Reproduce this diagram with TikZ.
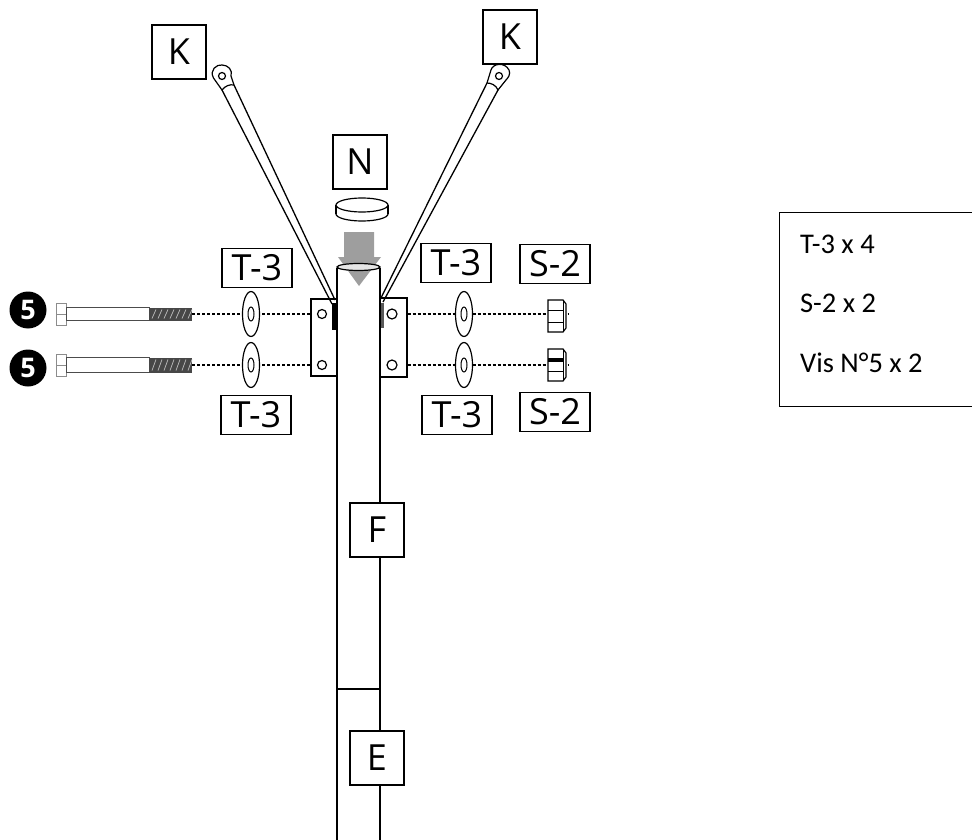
\documentclass[tikz,border=0pt]{standalone}
\usepackage{fontspec}
\setmainfont{Open Sans}
\newfontfamily\notefont{Carlito}
\usetikzlibrary{shapes.geometric}
\tikzstyle{tag}=[draw, line width=1.1, fill=white, inner sep=0, font=\fontsize{36}{36}\selectfont]
\tikzstyle{square tag}=[tag, minimum size=54]
\tikzstyle{wide tag}=[tag, minimum width=70, minimum height=39]
\tikzstyle{part}=[draw, line width=1.2, fill=white]
\tikzstyle{tube}=[line width=1.7]
\tikzstyle{rod}=[line width=1.3]
\tikzstyle{axis}=[dash pattern=on 3 off 2, line width=1.5]
\tikzstyle{washer}=[part, ellipse, inner sep=0, minimum width=17, minimum height=45]
\tikzstyle{bore}=[draw, line width=1, ellipse, inner sep=0, minimum width=6, minimum height=14]
\tikzstyle{hole}=[part, circle, inner sep=0, minimum size=9]
\tikzstyle{badge}=[fill=black, text=white, circle, inner sep=0, minimum size=37, font=\fontsize{27}{27}\bfseries\selectfont]
\tikzstyle{note}=[font=\notefont\fontsize{28.5}{28.5}\selectfont, anchor=west]
\pgfdeclarelayer{back}
\pgfsetlayers{back,main}

\begin{document}
\begin{tikzpicture}[x=1pt, y=-1pt]
    \useasboundingbox (0, 0) rectangle (972, 840);

    \node[badge] (five_upper) at (28, 310) {5};
    \node[badge] (five_lower) at (28, 368) {5};

    % cap and arrow
    \draw[part] (362, 214) ellipse[x radius=26, y radius=7];
    \fill[white] (336, 205) rectangle (388, 214);
    \draw[line width=1.2] (336, 205) -- (336, 214) (388, 205) -- (388, 214);
    \draw[part] (362, 205) ellipse[x radius=26, y radius=7];
    \fill[black!38] (344, 232) -- (374, 232) -- (374, 257) -- (381, 257) -- (359, 286) -- (338, 257) -- (344, 257) -- cycle;

    % brackets
    \draw[part] (311, 299) rectangle (337, 376);
    \draw[part] (380, 298) rectangle (407, 377);
    \fill (332, 303) rectangle (337, 330);
    \fill[black!65] (380, 303) rectangle (384, 328);

    % rods
    \coordinate (rod_left_a) at (222, 90);
    \coordinate (rod_left_b) at (234, 85);
    \coordinate (foot_left_a) at (332, 304);
    \coordinate (foot_left_b) at (335, 300);
    \coordinate (rod_right_a) at (487, 83);
    \coordinate (rod_right_b) at (498, 90);
    \coordinate (foot_right_a) at (380, 300);
    \coordinate (foot_right_b) at (383, 302);
    \draw[rod] (rod_left_a) to (foot_left_a);
    \draw[rod] (rod_left_b) to (foot_left_b);
    \draw[rod] (rod_right_a) to (foot_right_a);
    \draw[rod] (rod_right_b) to (foot_right_b);
    \draw[part] (rod_left_a) -- (213.5, 78) .. controls (209, 70) and (217, 64) .. (222, 65)
      .. controls (228, 65) and (233, 70) .. (231, 76) -- (rod_left_b)
      .. controls (230, 84) and (225, 86) .. cycle;
    \draw[part] (rod_right_a) -- (491, 70) .. controls (493, 63) and (505, 62) .. (509, 70)
      .. controls (511, 74) and (508, 78) .. (506, 80) -- (rod_right_b)
      .. controls (496, 85) and (491, 83) .. cycle;
    \node[hole, minimum size=7] (eye_left) at (222, 76) {};
    \node[hole, minimum size=7] (eye_right) at (499, 76) {};

    % tube
    \coordinate (tube_left_top) at (337, 268);
    \coordinate (tube_right_top) at (380, 268);
    \coordinate (tube_left_end) at (337, 840);
    \coordinate (tube_right_end) at (380, 840);
    \coordinate (joint_left) at (337, 689);
    \coordinate (joint_right) at (380, 689);
    \draw[tube] (tube_left_top) to (tube_left_end);
    \draw[tube] (tube_right_top) to (tube_right_end);
    \draw[line width=1.1] (joint_left) to (joint_right);
    \draw[line width=1.2, fill=black!10] (358.5, 267) ellipse[x radius=21.5, y radius=3.5];

    % bolts
    \foreach \name/\y/\half in {upper/314/6.5, lower/365/7.5} {
      \draw[black!45] (56, \y-11) rectangle (66, \y+11);
      \draw[black!45] (56, \y) to (66, \y);
      \draw[black!70, line width=1, fill=white] (66, \y-\half) rectangle (149, \y+\half);
      \fill[black!72] (149, \y-\half) rectangle (192, \y+\half);
      \foreach \x in {152, 158, ..., 188} {
        \draw[white!70!black, line width=0.8] (\x, \y+\half-2) -- (\x+4, \y-\half+2);
      }
      \coordinate (thread_\name) at (192, \y);
      \node[hole] (hole_left_\name) at (322, \y) {};
      \node[hole, minimum size=10] (hole_right_\name) at (392, \y) {};
      \coordinate (axis_end_\name) at (568, \y);
      \begin{pgfonlayer}{back}
      \draw[axis] (thread_\name) to (hole_left_\name);
      \draw[axis] (hole_right_\name) to (axis_end_\name);
      \end{pgfonlayer}
      \node[washer] (washer_left_\name) at (251, \y) {};
      \node[bore] (bore_left_\name) at (251, \y) {};
      \node[washer] (washer_right_\name) at (464, \y) {};
      \node[bore] (bore_right_\name) at (464, \y) {};
    }

    % nuts
    \foreach \y in {316, 365} {
      \draw[part] (548, \y-16) -- (563, \y-16) -- (566, \y-12) -- (566, \y+12) -- (563, \y+16) -- (548, \y+16) -- cycle;
      \draw[line width=1] (548, \y-6) -- (563, \y-6) (548, \y+6) -- (563, \y+6) (563, \y-16) -- (563, \y+16);
    }
    \fill (548, 358) rectangle (563, 362);

    % list of parts
    \coordinate (list_a) at (972, 212);
    \coordinate (list_b) at (779, 212);
    \coordinate (list_c) at (779, 406);
    \coordinate (list_d) at (972, 406);
    \draw[line width=0.9] (list_a) -- (list_b) -- (list_c) -- (list_d);
    \node[note, inner sep=0] (list_t) at (800, 244) {T-3 x 4};
    \node[note, inner sep=0] (list_s) at (800, 303) {S-2 x 2};
    \node[note, inner sep=0] (list_v) at (800, 363) {Vis N°5 x 2};

    \node[square tag] (k_left) at (179, 52) {K};
    \node[square tag] (k_right) at (510, 37) {K};
    \node[square tag] (n) at (360, 162) {N};
    \node[square tag] (f) at (377, 530) {F};
    \node[square tag] (e) at (377, 758) {E};
    \node[wide tag] (t_upper_left) at (257, 268) {T-3};
    \node[wide tag] (t_lower_left) at (256, 415) {T-3};
    \node[wide tag] (t_upper_right) at (456, 263) {T-3};
    \node[wide tag] (t_lower_right) at (457, 415) {T-3};
    \node[wide tag] (s_upper) at (555, 264) {S-2};
    \node[wide tag] (s_lower) at (555, 412) {S-2};
  \end{tikzpicture}
\end{document}
